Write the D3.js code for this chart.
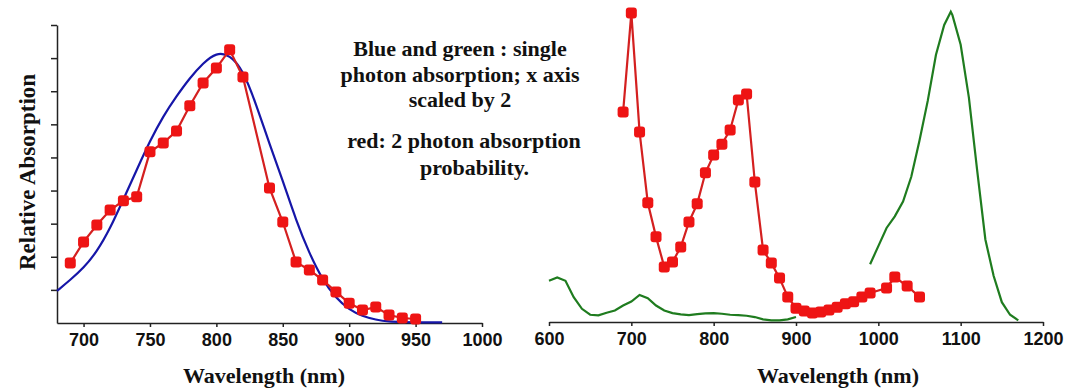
<!DOCTYPE html>
<html>
<head>
<meta charset="utf-8">
<script src="https://cdn.jsdelivr.net/npm/d3@7"></script>
<style>
  body { margin: 0; background: #fff; }
  .axis path, .axis line { stroke: #222; stroke-width: 1.5px; }
  .axis text { font: bold 18px "Liberation Sans", Arial, sans-serif; fill: #111; }
  .title { font: bold 22px "Liberation Serif", "Times New Roman", serif; fill: #111; }
</style>
</head>
<body>
<svg width="1085" height="389"></svg>
<script>
// left panel, single photon (blue, x scaled by 2)
var blueNm  = [680, 690, 700, 710, 720, 730, 740, 750, 760, 770, 780, 790, 800, 810, 820, 830, 840, 850, 860, 870, 880, 890, 900, 910, 920, 930, 940, 950, 960, 970];
var blueAbs = [0.97, 1.3, 1.66, 2.15, 2.85, 3.74, 4.62, 5.5, 6.25, 6.85, 7.4, 7.85, 8.17, 8.1, 7.65, 6.6, 5.4, 4.3, 3.1, 2.1, 1.3, 0.75, 0.4, 0.2, 0.1, 0.04, 0.03, 0.02, 0.02, 0.02];

// left panel, 2 photon (red)
var redNm  = [690, 700, 710, 720, 730, 740, 750, 760, 770, 780, 790, 800, 810, 820, 840, 850, 860, 870, 880, 890, 900, 910, 920, 930, 940, 950];
var redAbs = [1.81, 2.45, 2.96, 3.41, 3.69, 3.81, 5.17, 5.44, 5.8, 6.56, 7.25, 7.7, 8.25, 7.43, 4.08, 3.05, 1.84, 1.6, 1.3, 0.94, 0.6, 0.39, 0.48, 0.24, 0.15, 0.12];

// right panel, 2 photon (red)
var red2Nm  = [690, 700, 710, 720, 730, 740, 750, 760, 770, 780, 790, 800, 810, 820, 830, 840, 850, 860, 870, 880, 890, 900, 910, 920, 930, 940, 950, 960, 970, 980, 990, 1010, 1020, 1035, 1050];
var red2Abs = [6.36, 9.36, 5.76, 3.61, 2.58, 1.67, 1.82, 2.27, 3.03, 3.58, 4.52, 5.06, 5.39, 5.82, 6.73, 6.91, 4.24, 2.18, 1.79, 1.33, 0.76, 0.42, 0.33, 0.27, 0.3, 0.36, 0.45, 0.55, 0.61, 0.76, 0.88, 1.03, 1.36, 1.09, 0.76];

// right panel, single photon (green), two pieces
var greenLowNm  = [600, 610, 620, 630, 640, 650, 660, 670, 680, 690, 700, 710, 720, 730, 740, 750, 760, 770, 780, 790, 800, 810, 820, 830, 840, 850, 860, 870, 880, 890, 900];
var greenLowAbs = [1.25, 1.35, 1.25, 0.75, 0.4, 0.22, 0.2, 0.28, 0.35, 0.5, 0.62, 0.82, 0.72, 0.5, 0.35, 0.27, 0.23, 0.21, 0.24, 0.26, 0.27, 0.25, 0.22, 0.21, 0.19, 0.15, 0.08, 0.05, 0.05, 0.08, 0.15];
var greenPeakNm  = [990, 1000, 1010, 1020, 1030, 1040, 1050, 1060, 1070, 1080, 1088, 1090, 1100, 1110, 1120, 1130, 1140, 1150, 1160, 1170];
var greenPeakAbs = [1.75, 2.3, 2.85, 3.2, 3.65, 4.4, 5.5, 6.7, 8.1, 9.0, 9.4, 9.3, 8.4, 6.8, 4.6, 2.5, 1.4, 0.6, 0.22, 0.05];

var leftTicks  = [700, 750, 800, 850, 900, 950, 1000];
var rightTicks = [600, 700, 800, 900, 1000, 1100, 1200];
var yTicks     = [1, 2, 3, 4, 5, 6, 7, 8, 9];

var notes = ["Blue and green : single", "photon absorption; x axis", "scaled by 2", "red: 2 photon absorption", "probability."];

var pairs = function(xs, ys) {
  return xs.map(function(x, i) { return {nm: x, abs: ys[i]}; });
};

var svg = d3.select("svg");

var xL = d3.scaleLinear().domain([680, 1000]).range([57, 482]),
    yL = d3.scaleLinear().domain([0, 9]).range([323, 25]),
    xR = d3.scaleLinear().domain([600, 1200]).range([549, 1043]),
    yR = d3.scaleLinear().domain([0, 9]).range([322, 25]);

var lineL = d3.line()
    .x(function(d) { return xL(d.nm); })
    .y(function(d) { return yL(d.abs); });

var lineR = d3.line()
    .x(function(d) { return xR(d.nm); })
    .y(function(d) { return yR(d.abs); });

// axes
svg.append("g")
    .attr("class", "axis")
    .attr("transform", "translate(0,323)")
    .call(d3.axisBottom(xL).tickValues(leftTicks).tickFormat(d3.format("d"))
      .tickSize(4).tickSizeOuter(0).tickPadding(3));

svg.append("g")
    .attr("class", "axis")
    .attr("transform", "translate(57,0)")
    .call(d3.axisLeft(yL).tickValues(yTicks).tickSize(6).tickSizeOuter(0).tickFormat(""));

svg.append("g")
    .attr("class", "axis")
    .attr("transform", "translate(0,322)")
    .call(d3.axisBottom(xR).tickValues(rightTicks).tickFormat(d3.format("d"))
      .tickSize(4).tickSizeOuter(0).tickPadding(3));

svg.selectAll(".axis .tick text").attr("dy", "0.9em");

// left curves
svg.append("path")
    .attr("d", lineL.curve(d3.curveBasis)(pairs(blueNm, blueAbs)))
    .attr("fill", "none")
    .attr("stroke", "#1616a8")
    .attr("stroke-width", 2.2);

var drawRed = function(data, x, y, line) {
  svg.append("path")
      .attr("d", line.curve(d3.curveLinear)(data))
      .attr("fill", "none")
      .attr("stroke", "#d42020")
      .attr("stroke-width", 2.2);

  svg.append("g").selectAll("rect")
    .data(data)
    .enter().append("rect")
      .attr("x", function(d) { return x(d.nm) - 5.5; })
      .attr("y", function(d) { return y(d.abs) - 5.5; })
      .attr("width", 11)
      .attr("height", 11)
      .attr("rx", 3)
      .attr("fill", "#ee1414");
};

drawRed(pairs(redNm, redAbs), xL, yL, lineL);

// right curves
[pairs(greenLowNm, greenLowAbs), pairs(greenPeakNm, greenPeakAbs)].forEach(function(g) {
  svg.append("path")
      .attr("d", lineR.curve(d3.curveLinear)(g))
      .attr("fill", "none")
      .attr("stroke", "#1f7c1f")
      .attr("stroke-width", 2.2);
});

drawRed(pairs(red2Nm, red2Abs), xR, yR, lineR);

// titles
svg.append("text")
    .attr("class", "title")
    .attr("x", 264).attr("y", 383)
    .attr("text-anchor", "middle")
    .text("Wavelength (nm)");

svg.append("text")
    .attr("class", "title")
    .attr("x", 838).attr("y", 383)
    .attr("text-anchor", "middle")
    .text("Wavelength (nm)");

svg.append("text")
    .attr("class", "title")
    .attr("transform", "translate(35,172) rotate(-90)")
    .attr("text-anchor", "middle")
    .style("font-size", "23px")
    .text("Relative Absorption");

// note in the middle
var baselines = [56, 82, 107, 148, 175];
notes.forEach(function(t, i) {
  svg.append("text")
      .attr("class", "title")
      .attr("x", i < 3 ? 460 : (i == 3 ? 464 : 420))
      .attr("y", baselines[i])
      .attr("text-anchor", i < 4 ? "middle" : "start")
      .text(t);
});
</script>
</body>
</html>
